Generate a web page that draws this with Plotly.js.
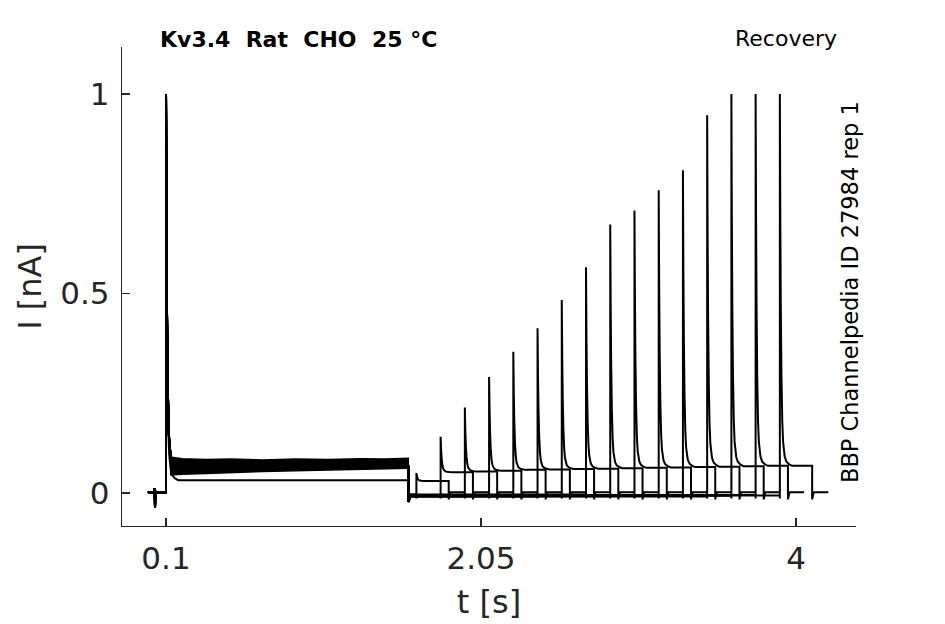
<!DOCTYPE html>
<html>
<head>
<meta charset="utf-8">
<script src="https://cdn.plot.ly/plotly-3.0.1.min.js"></script>
<style>html,body{margin:0;padding:0;background:#fff;}#chart{width:945px;height:624px;}</style>
</head>
<body>
<div id="chart"></div>
<script>
// ---- data ----
// test-pulse start times (s) of each sweep
const testStart = [1.65, 1.80, 1.95, 2.10, 2.25, 2.40, 2.55, 2.70, 2.85, 3.00, 3.15, 3.30, 3.45, 3.60, 3.75, 3.90];
// test-pulse peak currents (nA)
const testPeak = [0.05, 0.141, 0.214, 0.291, 0.354, 0.413, 0.484, 0.566, 0.673, 0.708, 0.759, 0.809, 0.947, 1.0, 1.0, 1.0];
// steady current at end of each test pulse (nA)
const testSteady = [0.030, 0.052, 0.054, 0.056, 0.058, 0.059, 0.060, 0.061, 0.062, 0.063, 0.064, 0.065, 0.066, 0.067, 0.068, 0.068];
// steady current during the conditioning pulse (nA)
const condSteady = [0.032, 0.066, 0.066, 0.067, 0.065, 0.066, 0.067, 0.066, 0.065, 0.067, 0.066, 0.066, 0.067, 0.066, 0.065, 0.066];
// baseline current during the recovery gap (nA)
const gapBase = [-0.004, -0.006, -0.008, -0.005, -0.007, -0.009, -0.006, -0.004, -0.008, -0.007, -0.005, -0.006, -0.009, -0.007, -0.005, -0.006];
// conditioning peak (nA)
const condPeak = 1.0;

// pre-pulse holding segment (shared by all sweeps)
const preT = [-0.012, 0.026, 0.030, 0.032, 0.034, 0.038, 0.1];
const preI = [0.002, 0.002, 0.012, -0.037, 0.004, 0.002, 0.002];

// shape of the inactivation decay after a peak: time offsets (s) and remaining fraction
const decayDt = [0, 0.003, 0.006, 0.010, 0.015, 0.020, 0.030, 0.040, 0.055, 0.075];
const decayFrac = [1, 0.65, 0.42, 0.24, 0.12, 0.065, 0.025, 0.012, 0.005, 0];

// protocol timing (s)
const condOn = 0.1, condOff = 1.6, testDur = 0.2, tailDur = 0.1;

// noisy band of the conditioning steady state (envelope of all sweeps)
const bandT = [0.125, 0.2, 0.35, 0.5, 0.7, 0.9, 1.1, 1.3, 1.45, 1.6];
const bandHi = [0.090, 0.086, 0.084, 0.085, 0.083, 0.085, 0.084, 0.086, 0.085, 0.087];
const bandLo = [0.045, 0.047, 0.049, 0.052, 0.054, 0.056, 0.058, 0.060, 0.061, 0.062];

// tick labels
const xTickVals = [0.1, 2.05, 4];
const xTickText = ['0.1', '2.05', '4'];
const yTickVals = [0, 0.5, 1];
const yTickText = ['0', '0.5', '1'];

// ---- build traces ----
function decaySegment(t0, peak, ss, xs, ys) {
  for (let k = 0; k < decayDt.length; k++) {
    xs.push(t0 + decayDt[k]);
    ys.push(ss + decayFrac[k] * (peak - ss));
  }
}

const traces = [];
for (let i = 0; i < testStart.length; i++) {
  const xs = preT.slice();
  const ys = preI.slice();
  // conditioning pulse
  decaySegment(condOn, condPeak, condSteady[i], xs, ys);
  xs.push(condOff); ys.push(condSteady[i]);
  xs.push(condOff); ys.push(-0.022);
  xs.push(condOff + 0.015); ys.push(gapBase[i]);
  // recovery gap
  const ts = testStart[i];
  xs.push(ts); ys.push(gapBase[i]);
  xs.push(ts); ys.push(-0.014);
  // test pulse
  decaySegment(ts, testPeak[i], testSteady[i], xs, ys);
  xs.push(ts + testDur); ys.push(testSteady[i]);
  xs.push(ts + testDur); ys.push(-0.016);
  xs.push(ts + testDur + 0.01); ys.push(0.002);
  xs.push(ts + testDur + tailDur); ys.push(0.002);
  traces.push({
    x: xs, y: ys, type: 'scatter', mode: 'lines',
    line: {color: '#000000', width: 2, simplify: false},
    hoverinfo: 'skip', showlegend: false
  });
}

// noise band
traces.push({
  x: bandT.concat(bandT.slice().reverse()),
  y: bandHi.concat(bandLo.slice().reverse()),
  type: 'scatter', mode: 'lines', fill: 'toself',
  fillcolor: '#000000', line: {color: '#000000', width: 1.5},
  hoverinfo: 'skip', showlegend: false
});

const axisColor = '#262626';
const layout = {
  width: 945, height: 624,
  margin: {l: 122, r: 89, t: 47, b: 98},
  paper_bgcolor: '#ffffff', plot_bgcolor: '#ffffff',
  font: {family: 'DejaVu Sans', color: axisColor},
  showlegend: false,
  xaxis: {
    range: [-0.1724, 4.3714], tickvals: xTickVals, ticktext: xTickText,
    ticks: 'inside', ticklen: 8, tickwidth: 1.3, tickcolor: axisColor,
    showline: true, linecolor: axisColor, linewidth: 1.3,
    showgrid: false, zeroline: false, automargin: false,
    tickfont: {family: 'DejaVu Sans', size: 31, color: axisColor},
    ticklabelstandoff: 4,
    title: {text: 't [s]', font: {family: 'DejaVu Sans', size: 32, color: axisColor}, standoff: 16}
  },
  yaxis: {
    range: [-0.0827, 1.1178], tickvals: yTickVals, ticktext: yTickText,
    ticks: 'inside', ticklen: 8, tickwidth: 1.3, tickcolor: axisColor,
    showline: true, linecolor: axisColor, linewidth: 1.3,
    showgrid: false, zeroline: false, automargin: false,
    tickfont: {family: 'DejaVu Sans', size: 31, color: axisColor},
    ticklabelstandoff: 5,
    title: {text: 'I [nA]', font: {family: 'DejaVu Sans', size: 32, color: axisColor}, standoff: 9}
  },
  annotations: [
    {text: '<b>Kv3.4\u00a0\u00a0Rat\u00a0\u00a0CHO\u00a0\u00a025 °C</b>', xref: 'paper', yref: 'paper',
     x: (158 - 122) / 734, y: (526 - 40) / 479, xanchor: 'left', yanchor: 'middle', showarrow: false,
     font: {family: 'DejaVu Sans', size: 22, color: '#000000'}},
    {text: 'Recovery', xref: 'paper', yref: 'paper',
     x: (839 - 122) / 734, y: (526 - 39) / 479, xanchor: 'right', yanchor: 'middle', showarrow: false,
     font: {family: 'DejaVu Sans', size: 22, color: '#000000'}},
    {text: 'BBP Channelpedia ID 27984 rep 1', xref: 'paper', yref: 'paper', textangle: -90,
     x: (850 - 122) / 734, y: (526 - 292) / 479, xanchor: 'center', yanchor: 'middle', showarrow: false,
     font: {family: 'DejaVu Sans', size: 22.5, color: '#000000'}}
  ]
};

Plotly.newPlot('chart', traces, layout, {displayModeBar: false, staticPlot: true});
</script>
</body>
</html>
